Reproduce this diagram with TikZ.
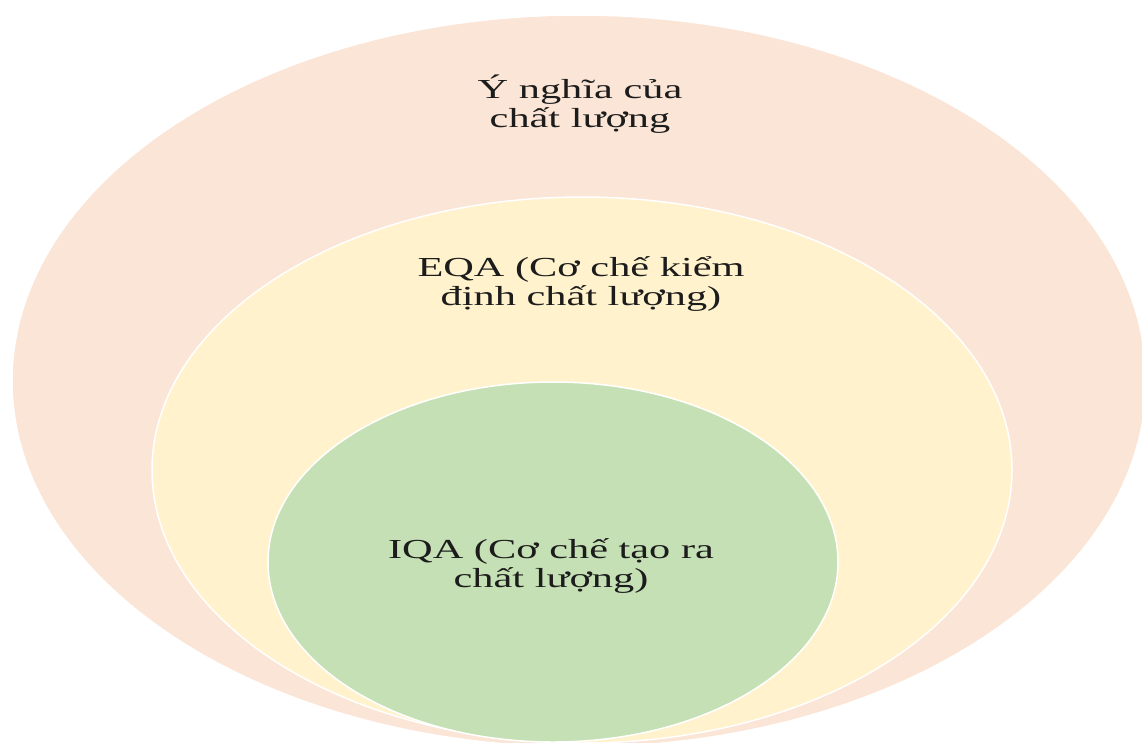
\documentclass[tikz,border=0pt]{standalone}
\usepackage{fontspec}
\newfontfamily\lblfont[FakeStretch=1.54]{Liberation Serif}
\usetikzlibrary{shapes.geometric}
\definecolor{peach}{HTML}{FBE5D6}
\definecolor{cream}{HTML}{FFF2CC}
\definecolor{leaf}{HTML}{C5E0B4}
\definecolor{ink}{HTML}{1C1C1C}
\begin{document}
\begin{tikzpicture}[x=1pt,y=-1pt,
  ring/.style={ellipse, draw=white, line width=1.5pt, inner sep=0pt},
  lbl/.style={align=center, text=ink, inner sep=0pt, anchor=base,
    font=\lblfont\fontsize{27.5}{29}\selectfont}]
  \useasboundingbox (0,0) rectangle (1142,742);
  \clip (0,0) rectangle (1142,742);
  % nested rings, all resting on the bottom edge
  \node (outer) [ring, fill=peach, minimum width=1134pt, minimum height=732pt] at (579,381) {};
  \node (middle) [ring, fill=cream, minimum width=860pt, minimum height=546pt] at (582,470) {};
  \node (inner) [ring, fill=leaf, minimum width=570pt, minimum height=360pt] at (553,562) {};
  % labels (anchored at the baseline of the last line)
  \node (tOuter) [lbl] at (580,127) {Ý nghĩa của\\chất lượng};
  \node (tMiddle) [lbl] at (581,305) {EQA (Cơ chế kiểm\\định chất lượng)};
  \node (tInner) [lbl] at (551,587) {IQA (Cơ chế tạo ra\\chất lượng)};
\end{tikzpicture}
\end{document}
